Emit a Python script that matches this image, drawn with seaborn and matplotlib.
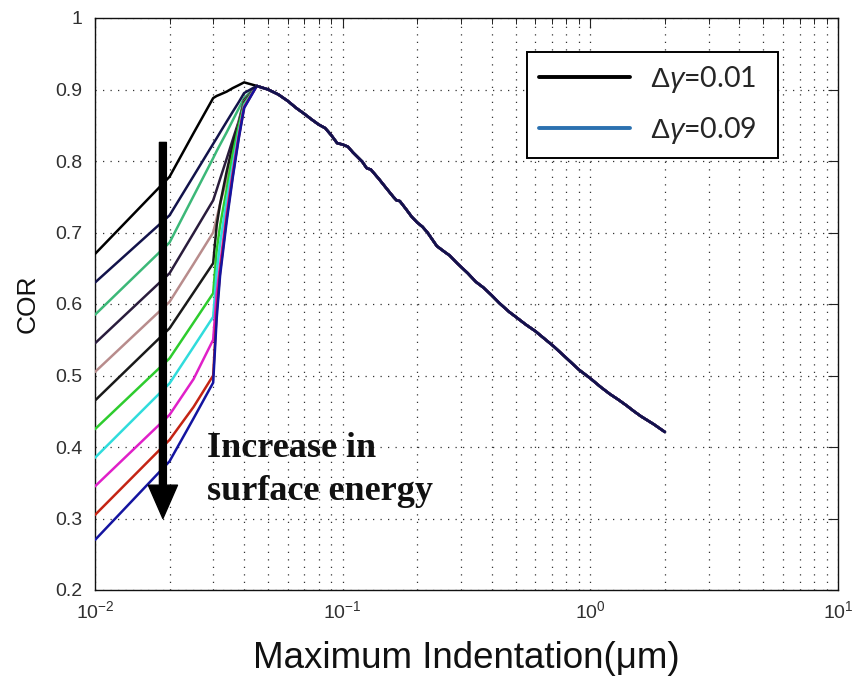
import matplotlib
matplotlib.use("Agg")
import matplotlib.pyplot as plt
from matplotlib.lines import Line2D
import numpy as np
import pandas as pd
import seaborn as sns

# ---------------- data ----------------
rise_x = [0.01, 0.02, 0.025, 0.03, 0.031, 0.032, 0.034, 0.036, 0.038, 0.04]

curve_names = ["c01", "c02", "c03", "c04", "c05", "c06", "c07", "c08", "c09", "c10", "c11"]
curve_colors = ["#000000", "#12124a", "#3cb878", "#2a1c3c", "#b88c8c", "#1a1a1a",
                "#2ecc2e", "#30dcdc", "#e020c8", "#c42414", "#1414a0"]

rise_c01 = [0.670, 0.778, 0.839, 0.888, 0.891, 0.893, 0.897, 0.902, 0.906, 0.910]
rise_c02 = [0.630, 0.724, 0.779, 0.824, 0.832, 0.840, 0.855, 0.869, 0.882, 0.895]
rise_c03 = [0.585, 0.686, 0.751, 0.804, 0.814, 0.823, 0.840, 0.857, 0.873, 0.888]
rise_c04 = [0.545, 0.643, 0.699, 0.745, 0.760, 0.775, 0.803, 0.830, 0.855, 0.885]
rise_c05 = [0.505, 0.603, 0.656, 0.700, 0.720, 0.740, 0.775, 0.815, 0.853, 0.883]
rise_c06 = [0.465, 0.566, 0.616, 0.657, 0.710, 0.740, 0.785, 0.823, 0.852, 0.882]
rise_c07 = [0.425, 0.524, 0.574, 0.615, 0.675, 0.710, 0.760, 0.810, 0.848, 0.880]
rise_c08 = [0.385, 0.489, 0.540, 0.582, 0.645, 0.685, 0.745, 0.795, 0.840, 0.878]
rise_c09 = [0.345, 0.445, 0.495, 0.550, 0.615, 0.655, 0.727, 0.785, 0.835, 0.876]
rise_c10 = [0.305, 0.410, 0.456, 0.500, 0.590, 0.645, 0.720, 0.780, 0.832, 0.875]
rise_c11 = [0.270, 0.380, 0.440, 0.490, 0.580, 0.640, 0.715, 0.777, 0.830, 0.874]

tail_x = [0.045, 0.05, 0.055, 0.06, 0.065, 0.07, 0.075, 0.08, 0.085, 0.09, 0.095,
          0.1, 0.105, 0.11, 0.12, 0.125, 0.13, 0.14, 0.15, 0.16, 0.165, 0.17, 0.18,
          0.19, 0.2, 0.21, 0.22, 0.24, 0.26, 0.27, 0.29, 0.32, 0.345, 0.37, 0.4,
          0.43, 0.47, 0.5, 0.55, 0.6, 0.65, 0.71, 0.78, 0.85, 0.9, 1.0, 1.1, 1.2,
          1.3, 1.4, 1.5, 1.6, 1.8, 2.0]
tail_y = [0.905, 0.900, 0.893, 0.884, 0.874, 0.866, 0.858, 0.851, 0.846, 0.836, 0.825,
          0.823, 0.820, 0.812, 0.799, 0.790, 0.788, 0.775, 0.762, 0.750, 0.745, 0.744, 0.733,
          0.722, 0.714, 0.708, 0.700, 0.681, 0.672, 0.668, 0.657, 0.643, 0.631, 0.623, 0.612,
          0.601, 0.589, 0.582, 0.571, 0.562, 0.552, 0.541, 0.528, 0.516, 0.508, 0.496, 0.484, 0.474,
          0.466, 0.458, 0.450, 0.443, 0.432, 0.421]

xtick_vals = [0.01, 0.1, 1, 10]
xtick_labels = [r"$10^{-2}$", r"$10^{-1}$", r"$10^{0}$", r"$10^{1}$"]
ytick_vals = [0.2, 0.3, 0.4, 0.5, 0.6, 0.7, 0.8, 0.9, 1.0]
ytick_labels = ["0.2", "0.3", "0.4", "0.5", "0.6", "0.7", "0.8", "0.9", "1"]

legend_labels = [r"$\Delta\gamma$=0.01", r"$\Delta\gamma$=0.09"]
legend_colors = ["#000000", "#2b71b0"]

# ---------------- build table ----------------
rises = [rise_c01, rise_c02, rise_c03, rise_c04, rise_c05, rise_c06,
         rise_c07, rise_c08, rise_c09, rise_c10, rise_c11]
rows = []
for name, r in zip(curve_names, rises):
    for xv, yv in zip(rise_x + tail_x, r + tail_y):
        rows.append({"curve": name, "x": xv, "cor": yv})
df = pd.DataFrame(rows)

# ---------------- style ----------------
sns.set_theme(style="white")
plt.rcParams["font.family"] = ["Liberation Sans", "DejaVu Sans"]
plt.rcParams["mathtext.fontset"] = "custom"
plt.rcParams["mathtext.rm"] = "Liberation Sans"
plt.rcParams["mathtext.it"] = "Liberation Sans:italic"
plt.rcParams["mathtext.bf"] = "Liberation Sans:bold"

fig = plt.figure(figsize=(8.58, 6.8), dpi=100)
fig.patch.set_facecolor("white")
ax = fig.add_axes([95 / 858, 1 - 590 / 680, 743 / 858, 572 / 680])

# draw the curves; the navy one on top so the shared tail is dark navy
for i, (name, col) in enumerate(zip(curve_names, curve_colors)):
    sub = df[df["curve"] == name]
    sns.lineplot(data=sub, x="x", y="cor", color=col, lw=1.8, estimator=None,
                 sort=True, ax=ax, legend=False, zorder=3 + (20 if name == "c02" else i))

ax.set_xscale("log")
ax.set_xlim(0.01, 10)
ax.set_ylim(0.2, 1.0)

ax.set_xticks(xtick_vals)
ax.set_xticklabels(xtick_labels)
ax.set_yticks(ytick_vals)
ax.set_yticklabels(ytick_labels)
ax.xaxis.set_minor_locator(matplotlib.ticker.LogLocator(base=10, subs=np.arange(2, 10)))
ax.xaxis.set_minor_formatter(matplotlib.ticker.NullFormatter())

ax.tick_params(axis="both", which="both", direction="in", top=True, right=True,
               colors="#222222", labelcolor="#303030")
ax.tick_params(axis="both", which="major", length=7, width=0.8, labelsize=14)
ax.tick_params(axis="x", which="major", pad=7)
ax.tick_params(axis="y", which="major", pad=9)
ax.tick_params(axis="x", which="minor", length=4, width=0.7)

grid_kw = dict(color="#333333", lw=0.9, linestyle=(0, (1, 5)))
ax.grid(True, which="major", axis="both", **grid_kw)
ax.grid(True, which="minor", axis="x", **grid_kw)
ax.set_axisbelow(True)

for s in ax.spines.values():
    s.set_color("#111111")
    s.set_linewidth(1.0)

ax.set_xlabel("Maximum Indentation(\u03bcm)", fontsize=26.5, color="#111111", labelpad=14)
ax.set_ylabel("COR", fontsize=19, color="#111111", labelpad=11)

# arrow and annotation
ax.annotate("", xy=(0.0188, 0.300), xytext=(0.0188, 0.826),
            arrowprops=dict(facecolor="black", edgecolor="black", width=5,
                            headwidth=21, headlength=24, shrink=0),
            zorder=40)
ax.text(0.0283, 0.421, "Increase in\nsurface energy", family="Liberation Serif",
        weight="bold", fontsize=26, va="top", ha="left", linespacing=1.42,
        color="#111111", zorder=41)

handles = [Line2D([], [], color=c, lw=2.8) for c in legend_colors]
leg = ax.legend(handles, legend_labels, loc="upper left",
                bbox_to_anchor=(0.581, 0.760, 0.338, 0.1806), mode="expand",
                frameon=True, fancybox=False,
                prop={"family": ["Lato", "DejaVu Sans"], "size": 20.5},
                handlelength=3.2, handletextpad=0.7, labelspacing=0.7,
                borderpad=0.42, borderaxespad=0.0)
leg.get_frame().set_edgecolor("black")
leg.get_frame().set_linewidth(1.4)
leg.get_frame().set_facecolor("white")
leg.get_frame().set_alpha(1.0)
leg.set_zorder(50)

fig.savefig("out.png", dpi=100)
